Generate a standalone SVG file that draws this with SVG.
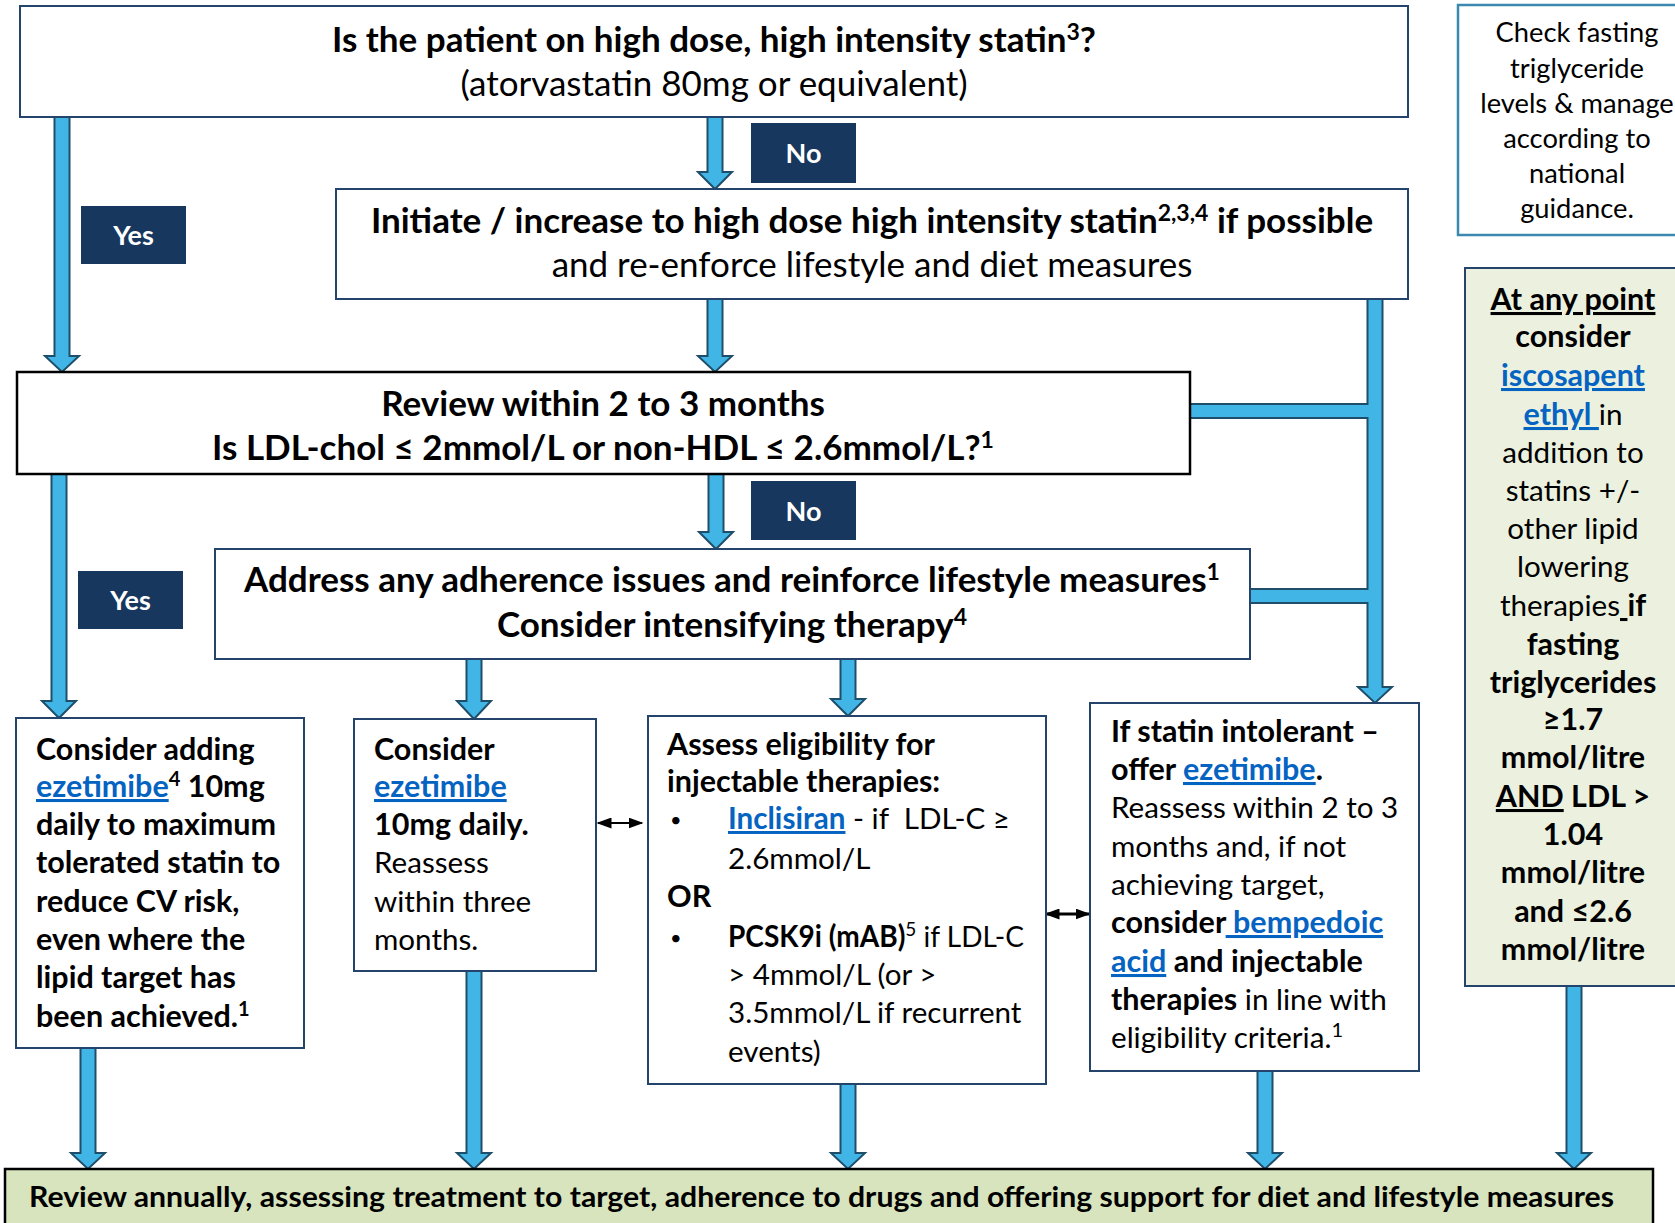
<svg xmlns="http://www.w3.org/2000/svg" width="1675" height="1223" viewBox="0 0 1675 1223">
<defs>
<style>
.box{fill:#fff;stroke:#24446b;stroke-width:2}
.t{font-family:Lato,"Open Sans","Liberation Sans",sans-serif;fill:#000}
.h{font-size:35px}
.s{font-size:30.5px}
.r{font-size:29.6px}
.m{text-anchor:middle}
.b{font-weight:bold}
.u{text-decoration:underline}
.lk{fill:#0563c1;text-decoration:underline;font-weight:bold}
.ar{fill:#41b6e6;stroke:#1f4e6a;stroke-width:2;stroke-linejoin:miter}
.lbl{fill:#17375e}
.lt{fill:#fff;font-weight:bold;font-size:27px;text-anchor:middle;font-family:Lato,"Open Sans","Liberation Sans",sans-serif}
.dbl{stroke:#000;fill:none}
.bul{font-size:20px}
</style>
<marker id="ah" viewBox="0 0 10 10" refX="9" refY="5" markerWidth="15" markerHeight="11" markerUnits="userSpaceOnUse" orient="auto-start-reverse" preserveAspectRatio="none">
<path d="M0,0 L10,5 L0,10 z" fill="#000"/>
</marker>
</defs>
<rect width="1675" height="1223" fill="#fff"/>

<g id="connectors">
<polygon class="ar" points="707.5,117 722.5,117 722.5,172 732,172 715,189 698,172 707.5,172"/>
<polygon class="ar" points="54.5,117 69.5,117 69.5,356 79,356 62,372 45,356 54.5,356"/>
<polygon class="ar" points="707.5,299 722.5,299 722.5,356 732,356 715,372 698,356 707.5,356"/>
<polygon class="ar" points="708.5,474 723.5,474 723.5,532 733,532 716,549 699,532 708.5,532"/>
<polygon class="ar" points="51.5,474 66.5,474 66.5,701 76,701 59,718 42,701 51.5,701"/>
<polygon class="ar" points="466.5,659 481.5,659 481.5,701 491,701 474,719 457,701 466.5,701"/>
<polygon class="ar" points="840.5,659 855.5,659 855.5,699 865,699 848,716 831,699 840.5,699"/>
<polygon class="ar" points="1367.5,299 1382.5,299 1382.5,687 1392,687 1375,703 1358,687 1367.5,687 1367.5,603 1250,603 1250,589 1367.5,589 1367.5,418 1190,418 1190,404 1367.5,404"/>
<polygon class="ar" points="80.5,1048 95.5,1048 95.5,1153 105,1153 88,1169 71,1153 80.5,1153"/>
<polygon class="ar" points="466.5,971 481.5,971 481.5,1153 491,1153 474,1169 457,1153 466.5,1153"/>
<polygon class="ar" points="840.5,1084 855.5,1084 855.5,1153 865,1153 848,1169 831,1153 840.5,1153"/>
<polygon class="ar" points="1257.5,1071 1272.5,1071 1272.5,1153 1282,1153 1265,1169 1248,1153 1257.5,1153"/>
<polygon class="ar" points="1566.5,986 1581.5,986 1581.5,1153 1591,1153 1574,1169 1557,1153 1566.5,1153"/>
<line class="dbl" x1="598" y1="823" x2="642" y2="823" stroke-width="2" marker-start="url(#ah)" marker-end="url(#ah)"/>
<line class="dbl" x1="1046" y1="914" x2="1089" y2="914" stroke-width="3" marker-start="url(#ah)" marker-end="url(#ah)"/>
</g>

<g id="label-no1"><rect class="lbl" x="751" y="123" width="105" height="60"/><text class="lt" x="803.5" y="163">No</text></g>
<g id="label-yes1"><rect class="lbl" x="81" y="206" width="105" height="58"/><text class="lt" x="133.5" y="245">Yes</text></g>
<g id="label-no2"><rect class="lbl" x="751" y="481" width="105" height="59"/><text class="lt" x="803.5" y="521">No</text></g>
<g id="label-yes2"><rect class="lbl" x="78" y="571" width="105" height="58"/><text class="lt" x="130.5" y="610">Yes</text></g>

<g id="n-top">
<rect class="box" x="20" y="6" width="1388" height="111"/>
<text class="t h m b" x="714" y="52">Is the patient on high dose, high intensity statin<tspan font-size="23" dy="-12">3</tspan><tspan dy="12">?</tspan></text>
<text class="t h m" x="714" y="96">(atorvastatin 80mg or equivalent)</text>
</g>

<g id="n-initiate">
<rect class="box" x="336" y="189" width="1072" height="110"/>
<text class="t h m b" x="872" y="233">Initiate / increase to high dose high intensity statin<tspan font-size="23" dy="-12">2,3,4</tspan><tspan dy="12"> if possible</tspan></text>
<text class="t h m" x="872" y="277">and re-enforce lifestyle and diet measures</text>
</g>

<g id="n-review">
<rect x="17" y="372" width="1173" height="102" fill="#fff" stroke="#000" stroke-width="2.5"/>
<text class="t h m b" x="603" y="416">Review within 2 to 3 months</text>
<text class="t h m b" x="603" y="460">Is LDL-chol ≤ 2mmol/L or non-HDL ≤ 2.6mmol/L?<tspan font-size="23" dy="-12">1</tspan></text>
</g>

<g id="n-address">
<rect class="box" x="215" y="549" width="1035" height="110"/>
<text class="t h m b" x="732" y="592">Address any adherence issues and reinforce lifestyle measures<tspan font-size="23" dy="-12">1</tspan></text>
<text class="t h m b" x="732" y="637">Consider intensifying therapy<tspan font-size="23" dy="-12">4</tspan></text>
</g>

<g id="n-ezetimibe-add">
<rect class="box" x="16" y="718" width="288" height="330"/>
<g class="t s b">
<text x="36" y="760">Consider adding</text>
<text x="36" y="797"><tspan class="lk">ezetimibe</tspan><tspan font-size="20" dy="-11">4</tspan><tspan dy="11"> 10mg</tspan></text>
<text x="36" y="835">daily to maximum</text>
<text x="36" y="873">tolerated statin to</text>
<text x="36" y="912">reduce CV risk,</text>
<text x="36" y="950">even where the</text>
<text x="36" y="988">lipid target has</text>
<text x="36" y="1027">been achieved.<tspan font-size="20" dy="-11">1</tspan></text>
</g>
</g>

<g id="n-ezetimibe">
<rect class="box" x="354" y="719" width="242" height="252"/>
<g class="t s">
<text class="b" x="374" y="760">Consider</text>
<text x="374" y="797"><tspan class="lk">ezetimibe</tspan></text>
<text class="b" x="374" y="835">10mg daily.</text>
<text class="r" x="374" y="873">Reassess</text>
<text class="r" x="374" y="912">within three</text>
<text class="r" x="374" y="950">months.</text>
</g>
</g>

<g id="n-injectable">
<rect class="box" x="648" y="716" width="398" height="368"/>
<g class="t s">
<text class="b" x="667" y="755">Assess eligibility for</text>
<text class="b" x="667" y="792">injectable therapies:</text>
<text class="bul" x="670" y="827">•</text>
<text class="r" x="728" y="829"><tspan class="lk">Inclisiran</tspan> - if&#160; LDL-C ≥</text>
<text class="r" x="728" y="869">2.6mmol/L</text>
<text class="b" x="667" y="907">OR</text>
<text class="bul" x="670" y="945">•</text>
<text class="r" x="728" y="947" textLength="296" lengthAdjust="spacingAndGlyphs"><tspan class="b">PCSK9i (mAB)</tspan><tspan font-size="20" dy="-11">5</tspan><tspan dy="11"> if LDL-C</tspan></text>
<text class="r" x="728" y="985">&gt; 4mmol/L (or &gt;</text>
<text class="r" x="728" y="1023">3.5mmol/L if recurrent</text>
<text class="r" x="728" y="1062">events)</text>
</g>
</g>

<g id="n-intolerant">
<rect class="box" x="1090" y="703" width="329" height="368"/>
<g class="t s">
<text class="b" x="1111" y="742">If statin intolerant –</text>
<text class="b" x="1111" y="780">offer <tspan class="lk">ezetimibe</tspan>.</text>
<text class="r" x="1111" y="818">Reassess within 2 to 3</text>
<text class="r" x="1111" y="857">months and, if not</text>
<text class="r" x="1111" y="895">achieving target,</text>
<text class="b" x="1111" y="933">consider<tspan class="lk"> bempedoic</tspan></text>
<text class="b" x="1111" y="972"><tspan class="lk">acid</tspan> and injectable</text>
<text x="1111" y="1010"><tspan class="b">therapies</tspan><tspan class="r"> in line with</tspan></text>
<text class="r" x="1111" y="1048">eligibility criteria.<tspan font-size="20" dy="-11">1</tspan></text>
</g>
</g>

<g id="n-check">
<rect x="1458" y="5" width="230" height="230" fill="#fff" stroke="#3b88b0" stroke-width="2.5"/>
<g class="t m" font-size="27.3">
<text x="1577" y="42">Check fasting</text>
<text x="1577" y="78">triglyceride</text>
<text x="1577" y="113">levels &amp; manage</text>
<text x="1577" y="148">according to</text>
<text x="1577" y="183">national</text>
<text x="1577" y="218">guidance.</text>
</g>
</g>

<g id="n-anypoint">
<rect x="1465" y="268" width="230" height="718" fill="#ebf1de" stroke="#24446b" stroke-width="2"/>
<g class="t s m">
<text class="b u" x="1573" y="310">At any point</text>
<text class="b" x="1573" y="347">consider</text>
<text x="1573" y="386"><tspan class="lk">iscosapent</tspan></text>
<text x="1573" y="425"><tspan class="lk">ethyl </tspan><tspan class="r">in</tspan></text>
<text class="r" x="1573" y="463">addition to</text>
<text class="r" x="1573" y="501">statins +/-</text>
<text class="r" x="1573" y="539">other lipid</text>
<text class="r" x="1573" y="577">lowering</text>
<text x="1573" y="616"><tspan class="r">therapies</tspan><tspan class="b u"> </tspan><tspan class="b">if</tspan></text>
<text class="b" x="1573" y="655">fasting</text>
<text class="b" x="1573" y="693">triglycerides</text>
<text class="b" x="1573" y="730">≥1.7</text>
<text class="b" x="1573" y="768">mmol/litre</text>
<text class="b" x="1573" y="807"><tspan class="u">AND</tspan> LDL &gt;</text>
<text class="b" x="1573" y="845">1.04</text>
<text class="b" x="1573" y="883">mmol/litre</text>
<text class="b" x="1573" y="922">and ≤2.6</text>
<text class="b" x="1573" y="960">mmol/litre</text>
</g>
</g>

<g id="n-annual">
<rect x="5" y="1169" width="1648" height="70" fill="#d7e4bd" stroke="#000" stroke-width="2.5"/>
<text class="t b" x="29" y="1207" font-size="28" textLength="1585" lengthAdjust="spacingAndGlyphs">Review annually, assessing  treatment to target, adherence to drugs and offering support for diet and lifestyle measures</text>
</g>
</svg>
